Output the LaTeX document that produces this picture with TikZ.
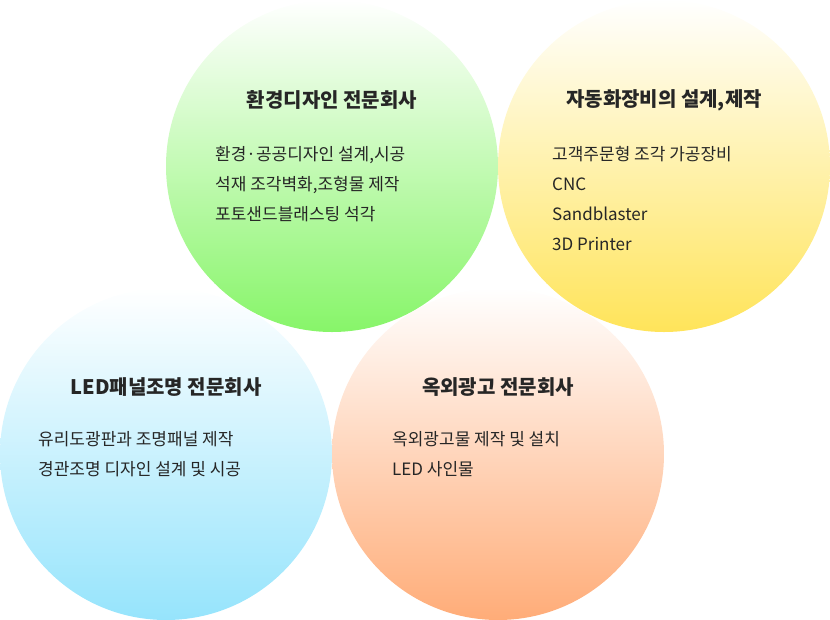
\documentclass[tikz,border=0pt]{standalone}
\usepackage{fontspec}
\setmainfont{Noto Sans CJK KR}
\definecolor{cg}{RGB}{135,245,105}
\definecolor{cy}{RGB}{255,228,90}
\definecolor{cb}{RGB}{150,228,252}
\definecolor{co}{RGB}{255,172,120}
\tikzset{x=1pt,y=-1pt,
circ/.style={circle,minimum size=332pt,inner sep=0pt,top color=white},
ttl/.style={font=\bfseries\fontsize{20}{24}\selectfont,text=black!85},
bdy/.style={font=\fontsize{17}{30}\selectfont,text=black!85,align=left,anchor=north west,inner sep=0pt}}
\begin{document}
\begin{tikzpicture}
\useasboundingbox (0,0) rectangle (830,619);
\node[circ,bottom color=cb] (cb) at (166,454) {};
\node[circ,bottom color=co] (co) at (498,454) {};
\node[circ,bottom color=cg] (cg) at (332,166) {};
\node[circ,bottom color=cy] (cy) at (664,166) {};
\node[ttl] (tg) at (332,100) {환경디자인 전문회사};
\node[bdy] (bg) at (215,146) {환경·공공디자인 설계,시공\\석재 조각벽화,조형물 제작\\포토샌드블래스팅 석각};
\node[ttl] (ty) at (664,100) {자동화장비의 설계,제작};
\node[bdy] (by) at (552,146) {고객주문형 조각 가공장비\\CNC\\Sandblaster\\3D Printer};
\node[ttl] (tb) at (166,387) {LED패널조명 전문회사};
\node[bdy] (bb) at (38,431) {유리도광판과 조명패널 제작\\경관조명 디자인 설계 및 시공};
\node[ttl] (to) at (498,387) {옥외광고 전문회사};
\node[bdy] (bo) at (392,431) {옥외광고물 제작 및 설치\\LED 사인물};
\end{tikzpicture}
\end{document}
